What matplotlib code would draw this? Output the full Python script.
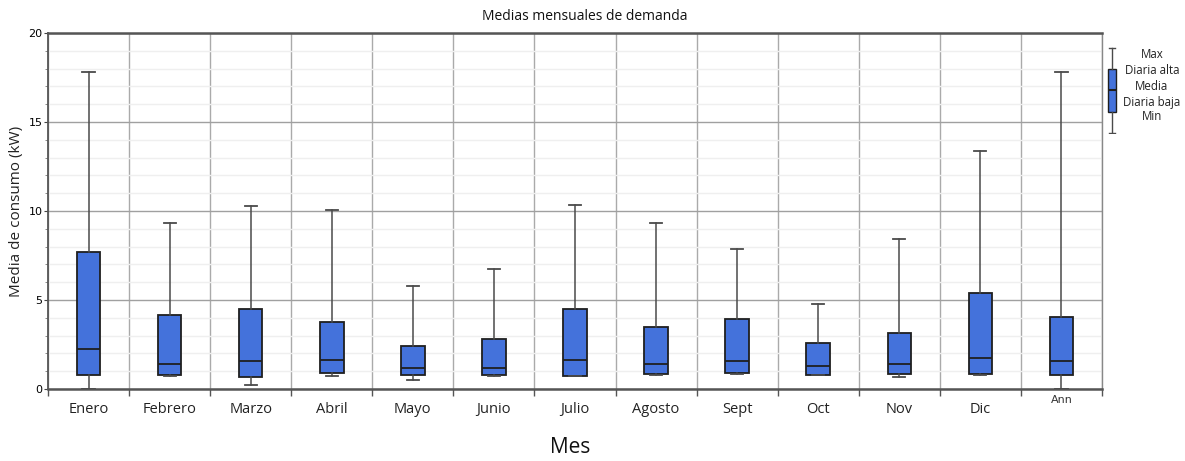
import matplotlib
matplotlib.use("Agg")
import matplotlib.pyplot as plt
import matplotlib.transforms as mtransforms
import numpy as np
from matplotlib.ticker import MultipleLocator

months = ["Enero", "Febrero", "Marzo", "Abril", "Mayo", "Junio", "Julio",
          "Agosto", "Sept", "Oct", "Nov", "Dic", "Ann"]
vmax = [17.8, 9.3, 10.3, 10.05, 5.8, 6.75, 10.35, 9.3, 7.85, 4.8, 8.4, 13.35, 17.8]
q3 = [7.7, 4.15, 4.5, 3.75, 2.42, 2.83, 4.5, 3.47, 3.95, 2.57, 3.13, 5.4, 4.05]
med = [2.25, 1.4, 1.57, 1.62, 1.18, 1.2, 1.62, 1.4, 1.55, 1.3, 1.4, 1.75, 1.55]
q1 = [0.8, 0.8, 0.7, 0.9, 0.8, 0.78, 0.75, 0.85, 0.9, 0.8, 0.85, 0.85, 0.8]
vmin = [0.0, 0.75, 0.22, 0.72, 0.5, 0.75, 0.72, 0.8, 0.87, 0.8, 0.7, 0.8, 0.0]

legend_labels = ["Max", "Diaria alta", "Media", "Diaria baja", "Min"]

BLUE = "#4472DB"
EDGE = "#1f1f1f"
WHISK = "#4a4a4a"

fig = plt.figure(figsize=(11.85, 4.61), dpi=100)
ax = fig.add_axes([48/1185, 72/461, (1102-48)/1185, (389-33)/461])

stats = []
for i in range(len(months)):
    stats.append(dict(whislo=vmin[i], q1=q1[i], med=med[i], q3=q3[i],
                      whishi=vmax[i], fliers=[], label=months[i]))
pos = np.arange(len(months))
ax.bxp(stats, positions=pos, widths=0.29, patch_artist=True, showfliers=False,
       boxprops=dict(facecolor=BLUE, edgecolor=EDGE, linewidth=1.3),
       medianprops=dict(color=EDGE, linewidth=1.3),
       whiskerprops=dict(color=WHISK, linewidth=1.1),
       capprops=dict(color=WHISK, linewidth=1.3), capwidths=0.15, zorder=3)

ax.set_xlim(-0.5, len(months) - 0.5)
ax.set_ylim(0, 20)

# vertical grid / ticks at category boundaries
ax.set_xticks(np.arange(-0.5, len(months) + 0.5, 1.0))
ax.set_xticklabels([])
ax.set_xticks(pos[:-1], minor=True)
ax.set_xticklabels(months[:-1], minor=True, fontsize=10.5, color="#222222",
                   family="Open Sans")
ax.tick_params(axis="x", which="minor", length=0, pad=9)
ax.tick_params(axis="x", which="major", length=5, width=1.0, color="#555555", direction="out")
ax.grid(axis="x", which="major", color="#aaaaaa", linewidth=1.0, zorder=0)
trans = mtransforms.blended_transform_factory(ax.transData, fig.transFigure)
ax.text(pos[-1], 1 - 400/461, months[-1], transform=trans, fontsize=8,
        ha="center", va="center", color="#333333")

ax.yaxis.set_major_locator(MultipleLocator(5))
ax.yaxis.set_minor_locator(MultipleLocator(1))
ax.grid(axis="y", which="major", color="#a0a0a0", linewidth=1.0, zorder=0)
ax.grid(axis="y", which="minor", color="#efefef", linewidth=1.0, zorder=0)
ax.tick_params(axis="y", which="major", labelsize=8, length=3, pad=1, color="#444444")
ax.tick_params(axis="y", which="minor", length=2, color="#777777")
ax.set_axisbelow(True)

for s in ["top", "bottom"]:
    ax.spines[s].set_color("#555555")
    ax.spines[s].set_linewidth(1.8)
ax.spines["left"].set_color("#555555")
ax.spines["left"].set_linewidth(1.3)
ax.spines["right"].set_color("#888888")
ax.spines["right"].set_linewidth(1.0)

fig.text(17/1185, 1 - 211/461, "Media de consumo (kW)", fontsize=11, rotation=90,
         ha="center", va="center", color="#222222", family="Open Sans")
fig.text(570/1185, 1 - 447/461, "Mes", fontsize=15, ha="center", va="center",
         color="#111111", family="Open Sans")
fig.text(585/1185, 1 - 16/461, "Medias mensuales de demanda", fontsize=10,
         ha="center", va="center", color="#111111", family="Open Sans")

# legend glyph
lax = fig.add_axes([1104/1185, 1 - 134/461, 16/1185, 87/461])
lax.bxp([dict(whislo=0, q1=1, med=2, q3=3, whishi=4, fliers=[])], positions=[0],
        widths=0.55, patch_artist=True, showfliers=False,
        boxprops=dict(facecolor=BLUE, edgecolor=EDGE, linewidth=1.0),
        medianprops=dict(color=EDGE, linewidth=1.5),
        whiskerprops=dict(color=WHISK, linewidth=1.0),
        capprops=dict(color=WHISK, linewidth=1.0), capwidths=0.4)
lax.set_xlim(-0.5, 0.5)
lax.set_ylim(-0.05, 4.05)
lax.axis("off")
ys = [55, 71, 86, 102, 117]
for t, y in zip(legend_labels, ys):
    fig.text(1152/1185, 1 - y/461, t, fontsize=8.3, ha="center", va="center",
             color="#222222", family="Open Sans")

fig.savefig("out.png", dpi=100)
